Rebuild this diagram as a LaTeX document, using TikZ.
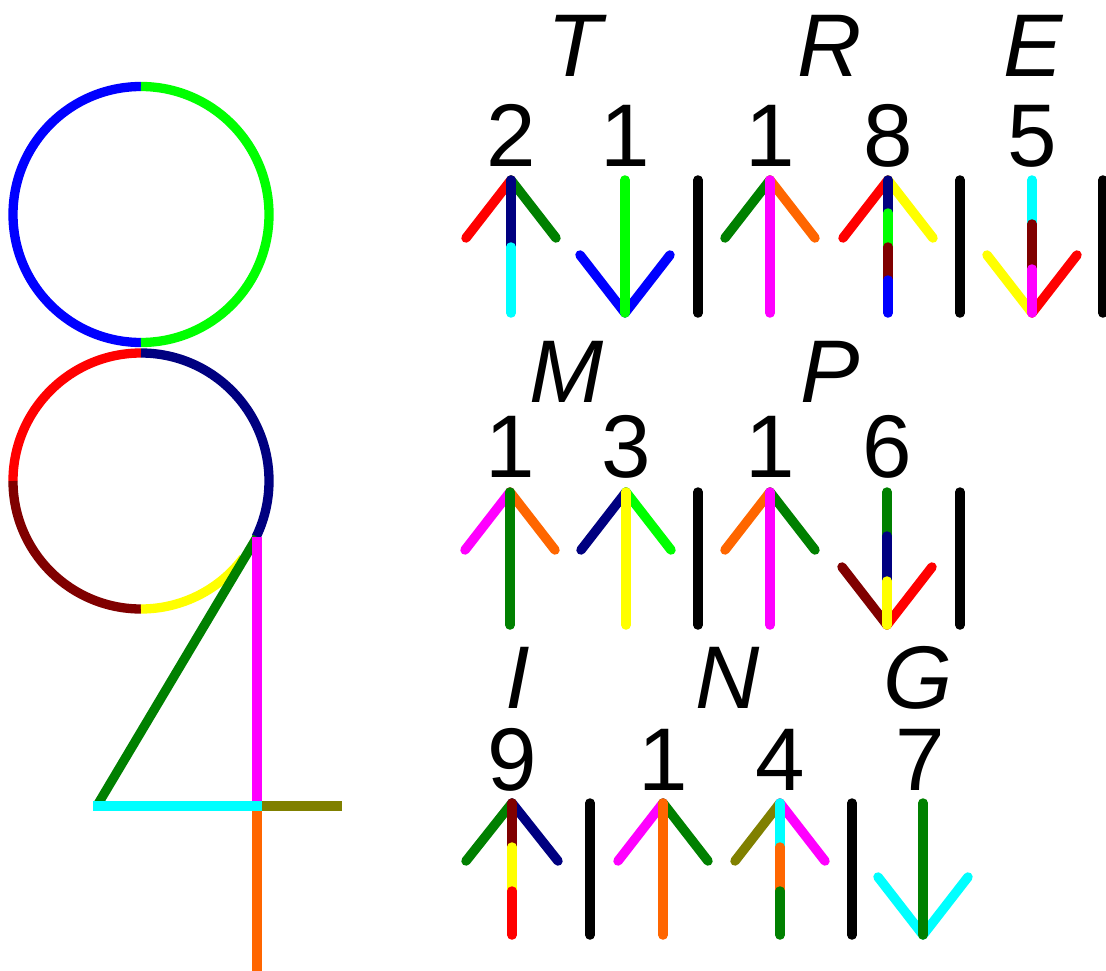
\documentclass[tikz,border=0pt]{standalone}
\usepackage{fontspec}
\setmainfont{Liberation Sans}
\definecolor{cBlue}{RGB}{0,0,255}
\definecolor{cLime}{RGB}{0,255,0}
\definecolor{cRed}{RGB}{255,0,0}
\definecolor{cNavy}{RGB}{0,0,128}
\definecolor{cMaroon}{RGB}{128,0,0}
\definecolor{cYellow}{RGB}{255,255,0}
\definecolor{cGreen}{RGB}{0,128,0}
\definecolor{cMagenta}{RGB}{255,0,255}
\definecolor{cCyan}{RGB}{0,255,255}
\definecolor{cOlive}{RGB}{128,128,0}
\definecolor{cOrange}{RGB}{255,102,0}
\tikzset{
  fig/.style={line width=9.3pt, line cap=butt},
  seg/.style={line width=9.5pt, line cap=round, line join=round},
  lbl/.style={inner sep=0pt, anchor=base, font=\fontsize{89}{89}\selectfont\itshape},
  num/.style={inner sep=0pt, anchor=base, font=\fontsize{89}{89}\selectfont},
}
\begin{document}
\begin{tikzpicture}[x=1pt,y=-1pt]
\useasboundingbox (0,0) rectangle (1106,971);
% ---------- left figure ----------
\coordinate (c1) at (141,214.5);
\coordinate (c2) at (141,481);
\draw[fig, cBlue]  (c1) ++(270:128) arc (270:90:128);
\draw[fig, cLime]  (c1) ++(-90:128) arc (-90:90:128);
\draw[fig, cRed]   (c2) ++(270:128) arc (270:180:128);
\draw[fig, cMaroon](c2) ++(180:128) arc (180:90:128);
\draw[fig, cYellow](c2) ++(90:128) arc (90:37:128);
\draw[fig, cNavy]  (c2) ++(-90:128) arc (-90:26:128);
\coordinate (j) at (257,537);
\coordinate (k) at (257,806);
\coordinate (dl) at (98,804);
\coordinate (ob) at (257,971);
\coordinate (cl) at (93,806);
\coordinate (cr) at (261.7,806);
\coordinate (or) at (342,806);
\draw[fig, cGreen] (j) -- (dl);
\draw[fig, cMagenta] (j) -- (k);
\draw[fig, cOrange] (k) -- (ob);
\draw[fig, cCyan] (cl) -- (cr);
\draw[fig, cOlive] (cr) -- (or);
% ---------- labels ----------
\node[lbl] (lT) at (575,77) {T};
\node[lbl] (lR) at (830,77) {R};
\node[lbl] (lE) at (1033,77) {E};
\node[num] (n1) at (511,167) {2};
\node[num] (n2) at (625,167) {1};
\node[num] (n3) at (770,167) {1};
\node[num] (n4) at (888,167) {8};
\node[num] (n5) at (1032,167) {5};
\node[lbl] (lM) at (567,402) {M};
\node[lbl] (lP) at (830,402) {P};
\node[num] (n6) at (510,477) {1};
\node[num] (n7) at (626,477) {3};
\node[num] (n8) at (770,477) {1};
\node[num] (n9) at (887,477) {6};
\node[lbl] (lI) at (518,708) {I};
\node[lbl] (lN) at (728,708) {N};
\node[lbl] (lG) at (918,708) {G};
\node[num] (n10) at (512,790) {9};
\node[num] (n11) at (663,790) {1};
\node[num] (n12) at (780,790) {4};
\node[num] (n13) at (920,790) {7};
% ---------- row 1 ----------
\draw[seg, cRed] (511,180) -- (466,238);
\draw[seg, cGreen] (511,180) -- (556,238);
\draw[seg, cNavy] (511,180) -- (511,247);
\draw[seg, cCyan] (511,247) -- (511,313);
\draw[seg, cBlue] (580,255) -- (625,313) -- (670,255);
\draw[seg, cLime] (625,180) -- (625,313);
\draw[seg, black] (698,180) -- (698,313);
\draw[seg, cGreen] (770,180) -- (725,238);
\draw[seg, cOrange] (770,180) -- (815,238);
\draw[seg, cMagenta] (770,180) -- (770,313);
\draw[seg, cRed] (888,180) -- (843,238);
\draw[seg, cYellow] (888,180) -- (933,238);
\draw[seg, cNavy] (888,180) -- (888,213);
\draw[seg, cLime] (888,213) -- (888,247);
\draw[seg, cMaroon] (888,247) -- (888,280);
\draw[seg, cBlue] (888,280) -- (888,313);
\draw[seg, black] (960,180) -- (960,313);
\draw[seg, cYellow] (987,255) -- (1032,313);
\draw[seg, cRed] (1077,255) -- (1032,313);
\draw[seg, cCyan] (1032,180) -- (1032,224);
\draw[seg, cMaroon] (1032,224) -- (1032,269);
\draw[seg, cMagenta] (1032,269) -- (1032,313);
\draw[seg, black] (1103,180) -- (1103,313);
% ---------- row 2 ----------
\draw[seg, cMagenta] (510,492) -- (465,550);
\draw[seg, cOrange] (510,492) -- (555,550);
\draw[seg, cGreen] (510,492) -- (510,625);
\draw[seg, cNavy] (626,492) -- (581,550);
\draw[seg, cLime] (626,492) -- (671,550);
\draw[seg, cYellow] (626,492) -- (626,625);
\draw[seg, black] (698,492) -- (698,625);
\draw[seg, cOrange] (770,492) -- (725,550);
\draw[seg, cGreen] (770,492) -- (815,550);
\draw[seg, cMagenta] (770,492) -- (770,625);
\draw[seg, cMaroon] (842,567) -- (887,625);
\draw[seg, cRed] (932,567) -- (887,625);
\draw[seg, cGreen] (887,492) -- (887,536);
\draw[seg, cNavy] (887,536) -- (887,581);
\draw[seg, cYellow] (887,581) -- (887,625);
\draw[seg, black] (960,492) -- (960,625);
% ---------- row 3 ----------
\draw[seg, cGreen] (512,803) -- (466,861);
\draw[seg, cNavy] (512,803) -- (558,861);
\draw[seg, cMaroon] (512,803) -- (512,847);
\draw[seg, cYellow] (512,847) -- (512,891);
\draw[seg, cRed] (512,891) -- (512,935);
\draw[seg, black] (590,803) -- (590,935);
\draw[seg, cMagenta] (663,803) -- (618,861);
\draw[seg, cGreen] (663,803) -- (708,861);
\draw[seg, cOrange] (663,803) -- (663,935);
\draw[seg, cOlive] (780,803) -- (735,861);
\draw[seg, cMagenta] (780,803) -- (825,861);
\draw[seg, cCyan] (780,803) -- (780,847);
\draw[seg, cOrange] (780,847) -- (780,891);
\draw[seg, cGreen] (780,891) -- (780,935);
\draw[seg, black] (852,803) -- (852,935);
\draw[seg, cCyan] (878,877) -- (923,935) -- (968,877);
\draw[seg, cGreen] (923,803) -- (923,935);
\end{tikzpicture}
\end{document}
